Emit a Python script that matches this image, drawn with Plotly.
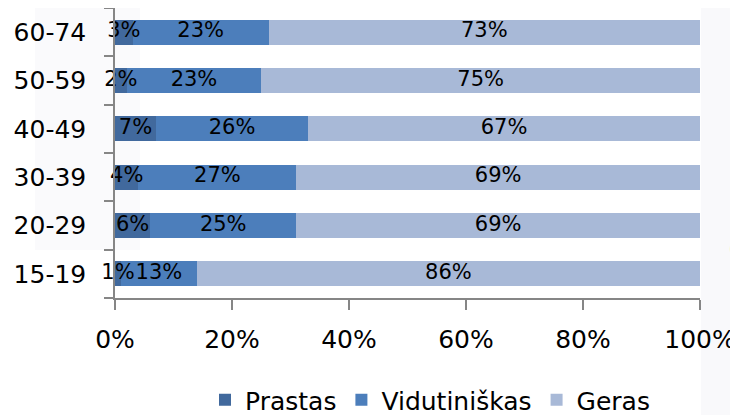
import plotly.graph_objects as go

categories = ["15-19", "20-29", "30-39", "40-49", "50-59", "60-74"]
prastas = [1, 6, 4, 7, 2, 3]
vidutiniskas = [13, 25, 27, 26, 23, 23]
geras = [86, 69, 69, 67, 75, 73]
series_names = ["Prastas", "Vidutiniškas", "Geras"]
series_colors = ["#41699D", "#4C7EBB", "#A8B9D7"]
x_ticks = [0, 20, 40, 60, 80, 100]
x_tick_labels = ["0%", "20%", "40%", "60%", "80%", "100%"]

FONT = "DejaVu Sans, sans-serif"
# the page body has an 8px margin; figure is sized so it ends at the window edge
OFF = 8
W, H = 738 - OFF, 415 - OFF
# target plot area in window pixels: x 115..700, y 8..298
ML, MR, MT, MB = 115 - OFF, 738 - 700, 8 - OFF, 415 - 298

series = [prastas, vidutiniskas, geras]
totals = [sum(vals) for vals in zip(*series)]

fig = go.Figure()
for name, vals, col in zip(series_names, series, series_colors):
    fig.add_trace(go.Bar(
        y=categories, x=vals, name=name, orientation="h",
        marker=dict(color=col, line=dict(width=0)),
        hoverinfo="skip",
    ))

# data labels drawn above all bars (centre of each normalised segment)
lab_x, lab_y, lab_t = [], [], []
cum = [0] * len(categories)
for vals in series:
    for i, v in enumerate(vals):
        lab_x.append((cum[i] + v / 2) / totals[i] * 100)
        lab_y.append(categories[i])
        lab_t.append(f"{v}%")
        cum[i] += v
fig.add_trace(go.Scatter(
    x=lab_x, y=lab_y, text=lab_t, mode="text", textposition="middle center",
    textfont=dict(family=FONT, size=21, color="#000000"),
    showlegend=False, hoverinfo="skip", cliponaxis=False,
))

pw = W - ML - MR
ph = H - MT - MB
def px(xw):  # window x -> paper
    return (xw - OFF - ML) / pw
def py(yw):  # window y -> paper
    return (H - MB - (yw - OFF)) / ph

# faint watermark-like background areas
shapes = [
    dict(type="rect", xref="paper", yref="paper", x0=px(701), x1=px(745), y0=py(420), y1=py(0),
         fillcolor="#f9f9fb", line=dict(width=0), layer="below"),
    dict(type="rect", xref="paper", yref="paper", x0=px(35), x1=px(140), y0=py(250), y1=py(0),
         fillcolor="#fafafc", line=dict(width=0), layer="below"),
]

fig.update_layout(
    width=W, height=H, barmode="stack", barnorm="percent", bargap=0.48,
    margin=dict(l=ML, r=MR, t=MT, b=MB, pad=0, autoexpand=False),
    paper_bgcolor="white", plot_bgcolor="rgba(0,0,0,0)",
    font=dict(family=FONT, size=24, color="#000000"),
    showlegend=True,
    legend=dict(orientation="h", xanchor="center", x=px(430), yanchor="middle", y=py(400),
                font=dict(family=FONT, size=25), traceorder="normal", itemwidth=30),
    shapes=shapes,
    annotations=[dict(text="C", xref="paper", yref="paper", x=px(727), y=py(250),
                      xanchor="left", yanchor="middle", showarrow=False,
                      font=dict(family=FONT, size=24, color="#000000"))],
    xaxis=dict(range=[0, 100], tickvals=x_ticks, ticktext=x_tick_labels, automargin=False,
               showgrid=False, zeroline=False, showline=True, linecolor="#868686", linewidth=1.5,
               ticks="outside", ticklen=10, tickcolor="#868686", tickwidth=1.5,
               tickfont=dict(family=FONT, size=25), ticklabelstandoff=8, fixedrange=True),
    yaxis=dict(categoryorder="array", categoryarray=categories, range=[-0.5, 5.5], automargin=False,
               showgrid=False, zeroline=False, showline=True, linecolor="#868686", linewidth=1.5,
               ticks="outside", ticklen=9, tickcolor="#868686", tickwidth=1.5, tickson="boundaries",
               tickfont=dict(family=FONT, size=25), ticklabelstandoff=22, fixedrange=True),
)

fig.write_html("out.html")
